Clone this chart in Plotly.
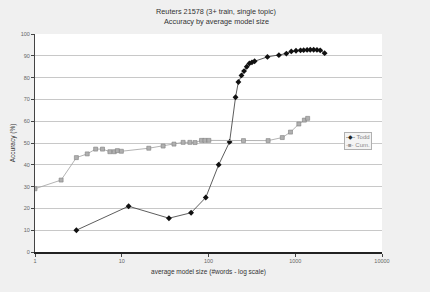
import plotly.graph_objects as go

todd_x = [3, 12, 35, 63, 93, 131, 175, 205, 221, 240, 257, 276, 296, 317, 340, 478, 648,
          790, 900, 1020, 1150, 1250, 1370, 1490, 1630, 1780, 1940, 2180]
todd_y = [10, 21, 15.5, 18, 25, 40, 50.5, 71, 78, 81, 83, 85, 86.5, 87, 87.5, 89.5, 90.3,
          91, 92, 92.3, 92.5, 92.6, 92.7, 92.8, 92.8, 92.7, 92.5, 91.2]

cum_x = [1, 2, 3, 4, 5, 6, 7.3, 8.2, 8.9, 9.9, 20.5, 30, 40, 51, 61, 70, 83, 91, 101,
         253, 487, 709, 881, 1100, 1274, 1390]
cum_y = [29, 33, 43.3, 45, 47.2, 47.2, 46, 46, 46.5, 46.2, 47.6, 48.6, 49.5, 50.3, 50.3,
         50.2, 51.2, 51.2, 51.2, 51.1, 51.1, 52.5, 55, 58.7, 60.5, 61.3]

title_lines = ["Reuters 21578 (3+ train, single topic)", "Accuracy by average model size"]
x_title = "average model size (#words - log scale)"
y_title = "Accuracy (%)"
x_ticks = [1, 10, 100, 1000, 10000]
y_ticks = list(range(0, 101, 10))
names = ["Todd", "Cum."]

fig = go.Figure()
fig.add_trace(go.Scatter(
    x=todd_x, y=todd_y, name=names[0], mode="lines+markers",
    line=dict(color="#333333", width=0.8),
    marker=dict(symbol="diamond", size=4.5, color="#111111"),
))
fig.add_trace(go.Scatter(
    x=cum_x, y=cum_y, name=names[1], mode="lines+markers",
    line=dict(color="#a0a0a0", width=0.8),
    marker=dict(symbol="square", size=4, color="#b0b0b0",
                line=dict(color="#808080", width=0.6)),
))

font = "Liberation Sans, Arial, sans-serif"
fig.update_layout(
    width=430, height=292,
    margin=dict(l=30, r=48, t=34, b=40),
    paper_bgcolor="#f0f0f0", plot_bgcolor="#ffffff",
    font=dict(family=font, size=6, color="#555555"),
    showlegend=False,
)
# titles
fig.add_annotation(text=title_lines[0], xref="paper", yref="paper", x=0.523, y=1.0,
                   yshift=34 - 9 + 4, showarrow=False,
                   font=dict(family=font, size=7.3, color="#333333"))
fig.add_annotation(text=title_lines[1], xref="paper", yref="paper", x=0.523, y=1.0,
                   yshift=34 - 19 + 4, showarrow=False,
                   font=dict(family=font, size=7.3, color="#333333"))
# compact legend
legend_text = ("<span style='color:#222'>-◆-</span> " + names[0] + "<br>"
               "<span style='color:#999'>-■-</span> " + names[1])
fig.add_annotation(text=legend_text, xref="paper", yref="paper", x=0.932, y=0.509,
                   xanchor="center", yanchor="middle", showarrow=False, align="left",
                   font=dict(family=font, size=6, color="#888888"),
                   bgcolor="#f4f4f4", bordercolor="#b0b0b0", borderwidth=1, borderpad=1)

fig.update_xaxes(
    type="log", range=[0, 4], tickvals=x_ticks,
    ticktext=[str(v) for v in x_ticks],
    showgrid=False, showline=True, linecolor="#222222", linewidth=1.5,
    ticks="outside", ticklen=3, tickcolor="#444444",
    tickfont=dict(size=5.5, color="#666666"),
    title=dict(text=x_title, font=dict(size=6.5, color="#333333"), standoff=6),
    zeroline=False, mirror=False,
)
fig.update_yaxes(
    range=[0, 100], tickvals=y_ticks,
    showgrid=True, gridcolor="#c8c8c8", gridwidth=1,
    showline=True, linecolor="#444444", linewidth=1,
    ticks="outside", ticklen=3, tickcolor="#444444",
    tickfont=dict(size=5.5, color="#666666"),
    title=dict(text=y_title, font=dict(size=6.5, color="#333333"), standoff=4),
    zeroline=False,
)

fig.write_html("out.html")
